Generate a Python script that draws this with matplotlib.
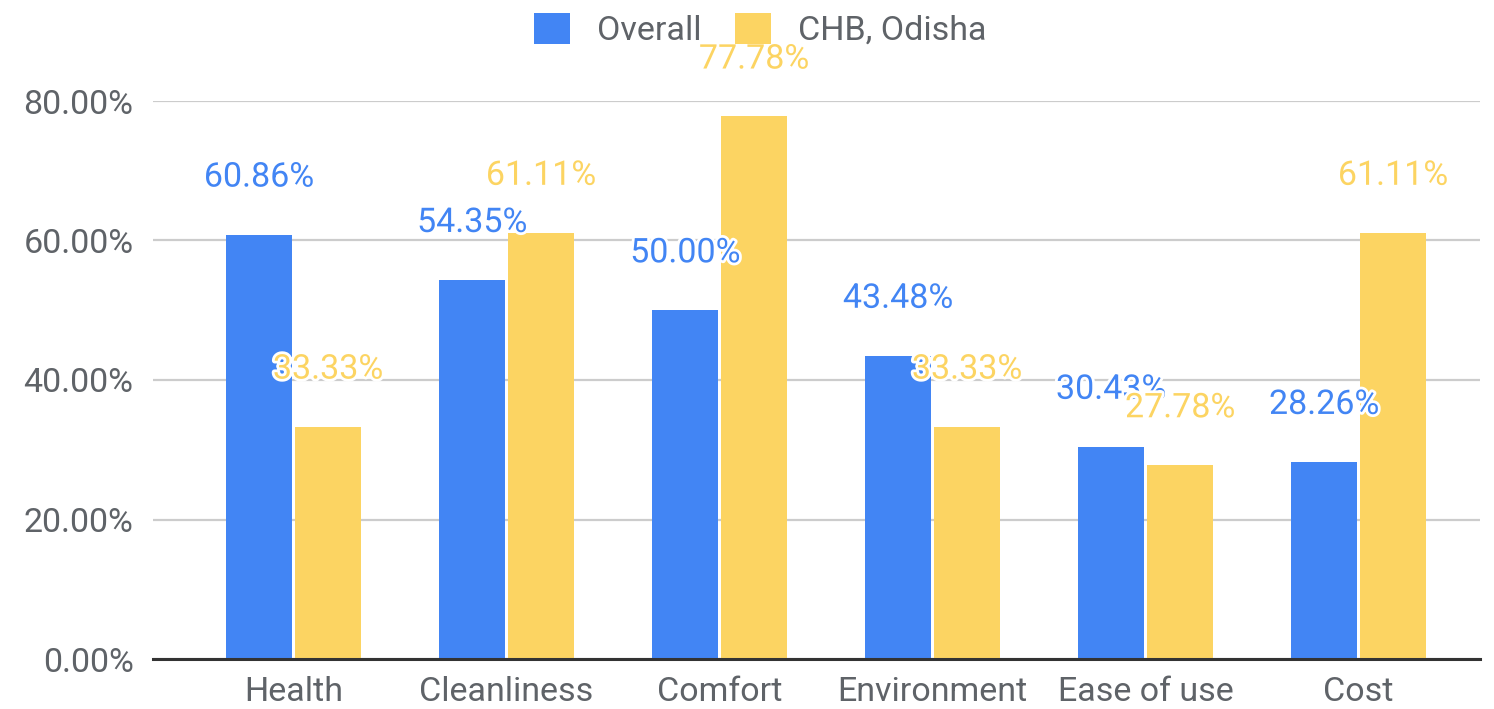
import matplotlib.pyplot as plt
import matplotlib.patheffects as pe
from matplotlib.patches import Patch
import numpy as np

categories = ["Health", "Cleanliness", "Comfort", "Environment", "Ease of use", "Cost"]
overall = [60.86, 54.35, 50.00, 43.48, 30.43, 28.26]
chb_odisha = [33.33, 61.11, 77.78, 33.33, 27.78, 61.11]
series_names = ["Overall", "CHB, Odisha"]
y_ticks = [0, 20, 40, 60, 80]

blue = "#4285F4"
yellow = "#FCD462"
text_gray = "#5f6368"
fs = 24.5

plt.rcParams['font.family'] = ['Roboto', 'DejaVu Sans']

fig = plt.figure(figsize=(14.94, 7.09), dpi=100)
ax = fig.add_axes([153 / 1494, 1 - 659 / 709, (1480 - 153) / 1494, (659 - 101) / 709])

x = np.arange(len(categories))
w = 0.31
off = 0.162

ax.bar(x - off, overall, width=w, color=blue, zorder=2)
ax.bar(x + off, chb_odisha, width=w, color=yellow, zorder=2)

# value labels with white halo
halo = [pe.withStroke(linewidth=4, foreground="white")]
for xs, vals, col in [(x - off, overall, blue), (x + off, chb_odisha, yellow)]:
    for xi, v in zip(xs, vals):
        ax.annotate(f"{v:.2f}%", (xi, v), xytext=(0, 41), textcoords="offset points",
                    ha="center", va="center", fontsize=fs, color=col,
                    path_effects=halo, zorder=5, annotation_clip=False)

ax.set_xlim(-0.66, 5.57)
ax.set_ylim(0, 80)
ax.set_yticks(y_ticks)
ax.set_yticklabels([f"{t:.2f}%" for t in y_ticks])
ax.set_xticks(x)
ax.set_xticklabels(categories)
ax.tick_params(axis="both", length=0, labelsize=fs, labelcolor=text_gray)
ax.tick_params(axis="y", pad=14)
ax.tick_params(axis="x", pad=12)

ax.grid(axis="y", color="#cccccc", linewidth=1.6, zorder=0)
for s in ["top", "right", "left"]:
    ax.spines[s].set_visible(False)
ax.spines["bottom"].set_color("#333333")
ax.spines["bottom"].set_linewidth(2.2)
ax.spines["bottom"].set_zorder(3)

handles = [Patch(facecolor=blue, edgecolor="none"), Patch(facecolor=yellow, edgecolor="none")]
fig.legend(handles, series_names, loc="center", bbox_to_anchor=(0.509, 0.958), ncol=2,
           frameon=False, fontsize=fs, labelcolor=text_gray,
           handlelength=1.05, handleheight=1.05, handletextpad=0.8, columnspacing=1.0)

fig.savefig("out.png", dpi=100)
